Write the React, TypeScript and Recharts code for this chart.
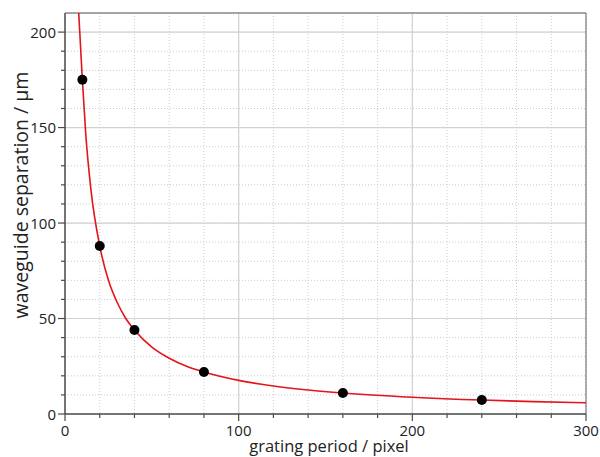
import React from "react";
import {
  ComposedChart,
  Line,
  Scatter,
  XAxis,
  YAxis,
  CartesianGrid,
  ReferenceLine,
  Label,
} from "recharts";

// Measured points
const periodPx = [10, 20, 40, 80, 160, 240];
const separationUm = [175, 88, 44, 22, 11, 7.3];

// Fitted curve
const curveX = [7.9, 10, 12, 15, 20, 25, 30, 35, 40, 50, 60, 70, 80, 100, 120, 140, 160, 200, 240, 270, 300];
const curveY = [210, 175, 146, 117, 88, 70, 58.5, 50, 44, 35, 29.2, 25, 22, 17.6, 14.7, 12.6, 11, 8.8, 7.3, 6.5, 5.9];

// Ticks
const xTicks = [0, 20, 40, 60, 80, 100, 120, 140, 160, 180, 200, 220, 240, 260, 280, 300];
const xLabelTicks = [0, 100, 200, 300];
const yTicks = [0, 10, 20, 30, 40, 50, 60, 70, 80, 90, 100, 110, 120, 130, 140, 150, 160, 170, 180, 190, 200];
const yLabelTicks = [0, 50, 100, 150, 200];
const xMajorGrid = [100, 200];
const yMajorGrid = [50, 100, 150, 200];

const points = periodPx.map((x, i) => ({ x, y: separationUm[i] }));
const curve = curveX.map((x, i) => ({ x, y: curveY[i] }));

const FONT = "'Open Sans', 'Noto Sans', sans-serif";
const AXIS = "#4a4a4a";

const XTick = (props: any) => {
  const { x, y, payload } = props;
  const major = xLabelTicks.includes(payload.value);
  return (
    <g>
      <line x1={x} y1={y} x2={x} y2={y + (major ? 7 : 4)} stroke={AXIS} strokeWidth={1.2} />
      {major && (
        <text x={x} y={y + 22} textAnchor="middle" fontSize={15} fontFamily={FONT} fill="#222">
          {payload.value}
        </text>
      )}
    </g>
  );
};

const YTick = (props: any) => {
  const { x, y, payload } = props;
  const major = yLabelTicks.includes(payload.value);
  return (
    <g>
      <line x1={x} y1={y} x2={x - (major ? 7 : 4)} y2={y} stroke={AXIS} strokeWidth={1.2} />
      {major && (
        <text x={x - 9} y={y + 5.5} textAnchor="end" fontSize={15} fontFamily={FONT} fill="#222">
          {payload.value}
        </text>
      )}
    </g>
  );
};

const Dot = (props: any) => {
  const { cx, cy } = props;
  return <circle cx={cx} cy={cy} r={5} fill="#000" />;
};

export default function App() {
  return (
    <div style={{ position: "absolute", left: 0, top: 0, background: "#fff" }}>
      <ComposedChart
        width={600}
        height={457}
        margin={{ top: 13, right: 14, left: 8, bottom: 0 }}
      >
        <CartesianGrid stroke="#cccccc" strokeDasharray="1 2" />
        {yMajorGrid.map((v) => (
          <ReferenceLine key={"y" + v} y={v} stroke="#d2d2d2" strokeWidth={1.2} />
        ))}
        {xMajorGrid.map((v) => (
          <ReferenceLine key={"x" + v} x={v} stroke="#d2d2d2" strokeWidth={1.2} />
        ))}
        <ReferenceLine y={210} stroke="#8a8a8a" strokeWidth={1.6} />
        <ReferenceLine x={300} stroke="#777" strokeWidth={1.2} />
        <XAxis
          dataKey="x"
          type="number"
          domain={[0, 300]}
          ticks={xTicks}
          interval={0}
          allowDataOverflow
          height={43}
          tickSize={0}
          tickMargin={0}
          tickLine={false}
          tick={<XTick />}
          axisLine={{ stroke: AXIS, strokeWidth: 1.5 }}
        >
          <Label
            content={() => (
              <text x={329} y={452} textAnchor="middle" fontSize={16.5} fontFamily={FONT} fill="#222">
                grating period / pixel
              </text>
            )}
          />
        </XAxis>
        <YAxis
          dataKey="y"
          type="number"
          domain={[0, 210]}
          ticks={yTicks}
          interval={0}
          allowDataOverflow
          width={57}
          tickSize={0}
          tickMargin={0}
          tickLine={false}
          tick={<YTick />}
          axisLine={{ stroke: AXIS, strokeWidth: 1.5 }}
        >
          <Label
            content={() => (
              <text
                x={0}
                y={0}
                transform="translate(28,195) rotate(-90)"
                textAnchor="middle"
                fontSize={19.5}
                fontFamily={FONT}
                fill="#222"
              >
                waveguide separation / µm
              </text>
            )}
          />
        </YAxis>
        <Line
          data={curve}
          dataKey="y"
          type="monotone"
          stroke="#e3141b"
          strokeWidth={1.6}
          dot={false}
          activeDot={false}
          isAnimationActive={false}
        />
        <Scatter data={points} dataKey="y" shape={<Dot />} isAnimationActive={false} />
      </ComposedChart>
    </div>
  );
}
